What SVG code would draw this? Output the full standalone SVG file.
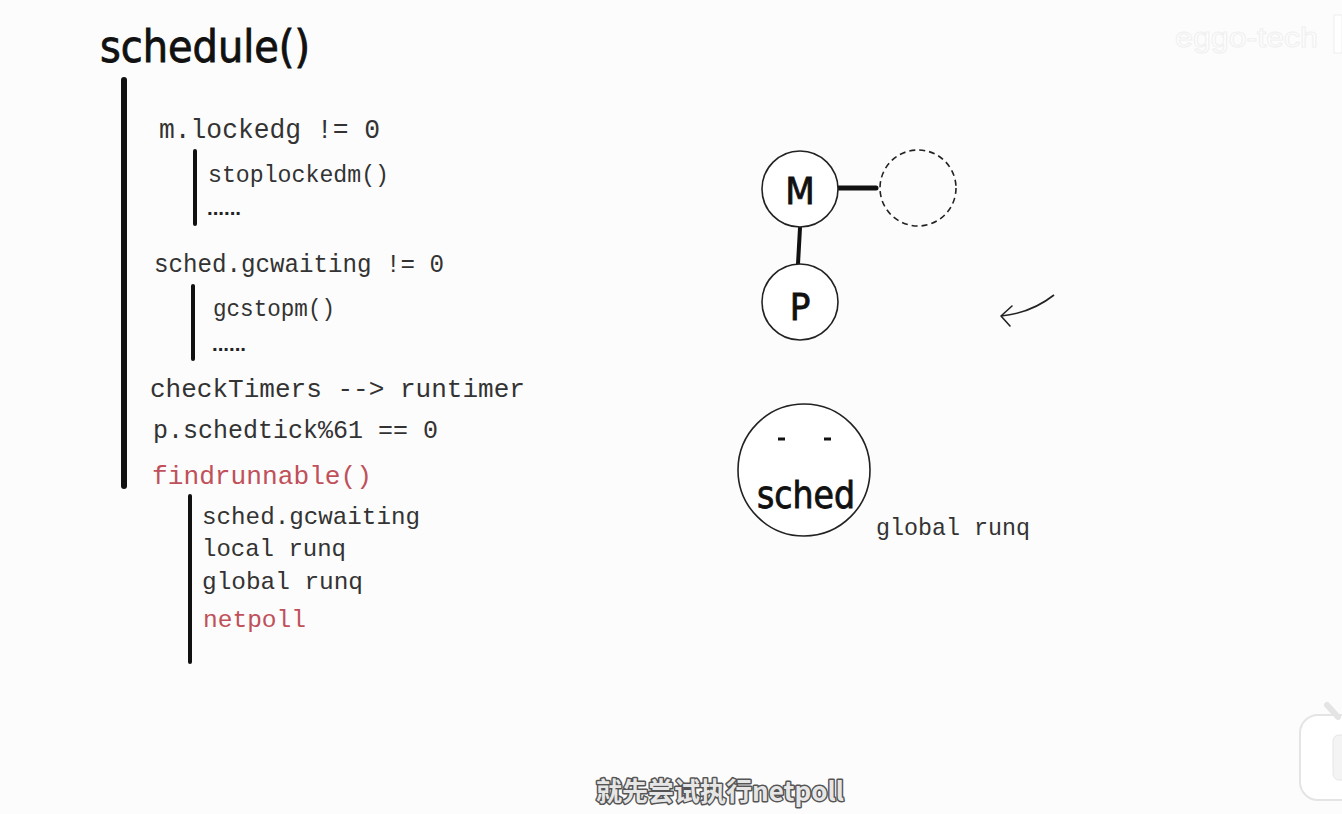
<svg xmlns="http://www.w3.org/2000/svg" width="1342" height="814" viewBox="0 0 1342 814">
<style>
.mono{font-family:"Liberation Mono","Courier New",monospace;fill:#333;}
.red{fill:#c0505a;}
.hand{font-family:"DejaVu Sans Condensed","DejaVu Sans",sans-serif;fill:#111;stroke:#111;stroke-width:0.8;}
.dots{font-family:"Liberation Sans",sans-serif;font-weight:bold;fill:#222;}
.bar{stroke:#111;stroke-linecap:round;fill:none;}
.circ{fill:#fff;stroke:#222;stroke-width:1.6;}
</style>
<rect width="1342" height="814" fill="#fcfcfc"/>
<g id="watermark">
<text x="1175" y="47" font-family="Liberation Sans,sans-serif" font-size="28" fill="#ffffff" stroke="#f0f0f0" stroke-width="1" textLength="143" lengthAdjust="spacingAndGlyphs">eggo-tech</text>
<rect x="1334" y="15" width="8" height="38" fill="#ffffff" stroke="#eeeeee" stroke-width="1"/>
</g>
<g id="title">
<text class="hand" x="100" y="62" font-size="44" textLength="210" lengthAdjust="spacingAndGlyphs">schedule()</text>
</g>
<g id="connectors">
<line class="bar" x1="124" y1="80" x2="124" y2="486" stroke-width="6"/>
<line class="bar" x1="195" y1="151" x2="195" y2="224" stroke-width="4"/>
<line class="bar" x1="193" y1="286" x2="193" y2="359" stroke-width="4"/>
<line class="bar" x1="190" y1="496" x2="190" y2="662" stroke-width="4"/>
<line class="bar" x1="838" y1="188" x2="876" y2="188" stroke-width="5"/>
<line class="bar" x1="800" y1="228" x2="798" y2="264" stroke-width="4"/>
<path d="M1054 295 C1040 306 1022 314 1001 316" fill="none" stroke="#222" stroke-width="1.6"/>
<path d="M1012 306 L1001 316 L1010 326" fill="none" stroke="#222" stroke-width="1.6" stroke-linecap="round" stroke-linejoin="round"/>
</g>
<g id="schedule-body">
<text class="mono" x="159" y="138" font-size="27" textLength="221" lengthAdjust="spacingAndGlyphs">m.lockedg != 0</text>
<text class="mono" x="208" y="182" font-size="23" textLength="181" lengthAdjust="spacingAndGlyphs">stoplockedm()</text>
<text class="dots" x="207" y="215" font-size="20" textLength="34" lengthAdjust="spacingAndGlyphs">......</text>
<text class="mono" x="154" y="272" font-size="25" textLength="290" lengthAdjust="spacingAndGlyphs">sched.gcwaiting != 0</text>
<text class="mono" x="213" y="316" font-size="23" textLength="122" lengthAdjust="spacingAndGlyphs">gcstopm()</text>
<text class="dots" x="212" y="351" font-size="20" textLength="34" lengthAdjust="spacingAndGlyphs">......</text>
<text class="mono" x="150" y="397" font-size="26" textLength="375" lengthAdjust="spacingAndGlyphs">checkTimers --&gt; runtimer</text>
<text class="mono" x="153" y="438" font-size="26" textLength="285" lengthAdjust="spacingAndGlyphs">p.schedtick%61 == 0</text>
<text class="mono red" x="152" y="484" font-size="26" textLength="220" lengthAdjust="spacingAndGlyphs">findrunnable()</text>
</g>
<g id="findrunnable-body">
<text class="mono" x="202" y="524" font-size="24" textLength="218" lengthAdjust="spacingAndGlyphs">sched.gcwaiting</text>
<text class="mono" x="202" y="556" font-size="24" textLength="144" lengthAdjust="spacingAndGlyphs">local runq</text>
<text class="mono" x="202" y="589" font-size="24" textLength="161" lengthAdjust="spacingAndGlyphs">global runq</text>
<text class="mono red" x="203" y="627" font-size="24" textLength="103" lengthAdjust="spacingAndGlyphs">netpoll</text>
</g>
<g id="node-M">
<circle class="circ" cx="800" cy="189" r="38"/>
<text class="hand" x="800" y="204" font-size="38" text-anchor="middle" stroke-width="1.5">M</text>
</g>
<g id="node-empty">
<circle cx="918" cy="188" r="38" fill="none" stroke="#222" stroke-width="1.6" stroke-dasharray="6 4"/>
</g>
<g id="node-P">
<circle class="circ" cx="800" cy="302" r="38"/>
<text class="hand" x="800" y="320" font-size="38" text-anchor="middle">P</text>
</g>
<g id="node-sched">
<circle class="circ" cx="804" cy="470" r="66"/>
<line x1="778" y1="439" x2="785" y2="439" stroke="#111" stroke-width="3"/>
<line x1="824" y1="439" x2="831" y2="439" stroke="#111" stroke-width="3"/>
<text class="hand" x="757" y="508" font-size="38" textLength="98" lengthAdjust="spacingAndGlyphs">sched</text>
</g>
<g id="label-global-runq">
<text class="mono" x="876" y="535" font-size="24" textLength="154" lengthAdjust="spacingAndGlyphs">global runq</text>
</g>
<g id="subtitle">
<text x="720" y="801" font-family="Noto Sans CJK SC,sans-serif" font-size="26" font-weight="bold" text-anchor="middle" fill="#e6e6e6" stroke="#555" stroke-width="3" paint-order="stroke" stroke-linejoin="round">就先尝试执行netpoll</text>
</g>
<g id="corner-icon">
<rect x="1300" y="715" width="60" height="85" rx="18" fill="#ffffff" stroke="#e4e4e4" stroke-width="2"/>
<line x1="1327" y1="705" x2="1338" y2="717" stroke="#e4e4e4" stroke-width="6" stroke-linecap="round"/>
<rect x="1333" y="735" width="20" height="45" rx="6" fill="#f4f4f4" stroke="#e6e6e6"/>
</g>
</svg>
